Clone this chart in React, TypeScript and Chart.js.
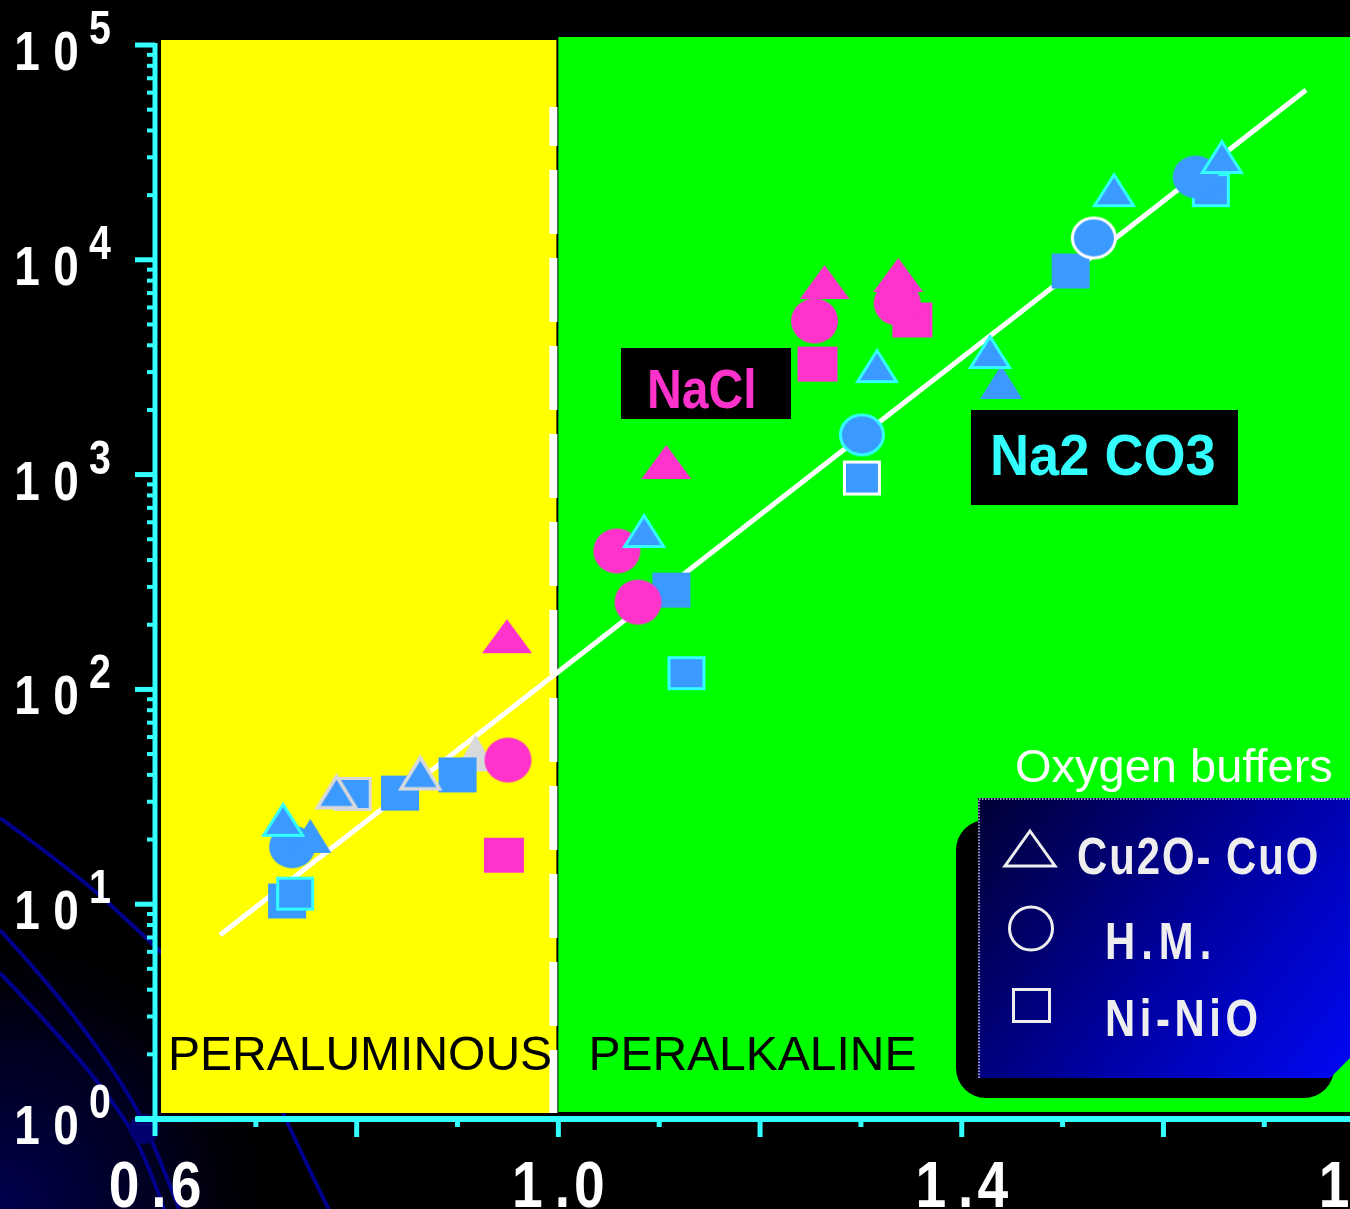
import { useEffect, useRef } from 'react';
import { Chart, registerables } from 'chart.js';

Chart.register(...registerables);

// ---------------- data ----------------
const X_MIN = 0.6;
const X_MAX = 1.785;
const Y_MIN = 1;
const Y_MAX = 100000;

const xMinorTicks = [0.7, 0.9, 1.1, 1.3, 1.5, 1.7];
const xMajorTicks = [0.8, 1.0, 1.2, 1.4, 1.6];
const xLabelValues = [0.6, 1.0, 1.4, 1.8];
const yDecades = [0, 1, 2, 3, 4, 5];
const yMinorMultipliers = [2, 3, 4, 5, 6, 7, 8, 9];
const boundaryValue = 1.0; // peraluminous / peralkaline limit

// NaCl experiments (magenta)
const naclCu2oCuo = [
  { x: 0.949, y: 177 },
  { x: 1.107, y: 1145 },
  { x: 1.264, y: 7880 },
  { x: 1.337, y: 8500 },
];
const naclHM = [
  { x: 0.95, y: 46.9 },
  { x: 1.058, y: 441 },
  { x: 1.079, y: 255 },
  { x: 1.254, y: 5190 },
  { x: 1.336, y: 6290 },
];
const naclNiNiO = [
  { x: 0.946, y: 16.9 },
  { x: 1.257, y: 3270 },
  { x: 1.351, y: 5245 },
];

// Na2CO3 experiments (blue)
const na2co3Cu2oCuoRunA = [
  { x: 0.727, y: 24.7 },
  { x: 1.085, y: 546 },
  { x: 1.316, y: 3200 },
  { x: 1.428, y: 3720 },
  { x: 1.551, y: 21100 },
  { x: 1.658, y: 30100 },
];
const na2co3Cu2oCuoRunB = [
  { x: 0.754, y: 20.8 },
  { x: 1.439, y: 2700 },
];
const na2co3Cu2oCuoRunC = [
  { x: 0.78, y: 33.3 },
  { x: 0.863, y: 40.8 },
];
const otherCu2oCuo = [{ x: 0.918, y: 50.6 }];
const na2co3HMRunA = [
  { x: 0.736, y: 18.5 },
  { x: 1.632, y: 24300 },
];
const na2co3HMRunB = [{ x: 1.301, y: 1530 }];
const na2co3HMRunC = [{ x: 1.531, y: 12640 }];
const na2co3NiNiORunA = [
  { x: 0.731, y: 10.35 },
  { x: 0.843, y: 32.9 },
  { x: 0.9, y: 40.0 },
  { x: 1.112, y: 290 },
  { x: 1.508, y: 8870 },
];
const na2co3NiNiORunB = [
  { x: 0.739, y: 11.2 },
  { x: 1.127, y: 119 },
  { x: 1.647, y: 21100 },
];
const na2co3NiNiORunC = [{ x: 0.796, y: 32.6 }];
const na2co3NiNiORunD = [{ x: 1.301, y: 964 }];

const fitLine = [
  { x: 0.6645, y: 7.19 },
  { x: 1.7414, y: 61700 },
];

// ---------------- styles ----------------
const MAGENTA = '#ff33cc';
const BLUE = '#3a9aff';
const CYAN = '#33ffff';
const GREY = '#d9d9d9';
const WHITE = '#ffffff';
const YELLOW = '#ffff00';
const GREEN = '#00ff00';
const FONT = '"Liberation Sans", Arial, Helvetica, sans-serif';

function makeMarker(kind: string, w: number, h: number, fill: string, stroke?: string, lw = 3) {
  const pad = 5;
  const c = document.createElement('canvas');
  c.width = w + 2 * pad;
  c.height = h + 2 * pad;
  const g = c.getContext('2d')!;
  g.translate(pad, pad);
  const i = stroke ? lw / 2 : 0;
  g.beginPath();
  if (kind === 'tri') {
    g.moveTo(w / 2, i);
    g.lineTo(w - i, h - i);
    g.lineTo(i, h - i);
    g.closePath();
  } else if (kind === 'rect') {
    g.rect(i, i, w - 2 * i, h - 2 * i);
  } else {
    g.ellipse(w / 2, h / 2, w / 2 - i, h / 2 - i, 0, 0, Math.PI * 2);
  }
  g.fillStyle = fill;
  g.fill();
  if (stroke) {
    g.strokeStyle = stroke;
    g.lineWidth = lw;
    g.lineJoin = 'miter';
    g.stroke();
  }
  return c;
}

function drawChars(
  ctx: CanvasRenderingContext2D,
  text: string,
  x: number,
  baseline: number,
  font: string,
  color: string,
  spacing: number,
  sx: number,
  align: 'left' | 'center' = 'left'
) {
  ctx.save();
  ctx.font = font;
  ctx.fillStyle = color;
  ctx.textAlign = 'left';
  ctx.textBaseline = 'alphabetic';
  const chars = [...text];
  const widths = chars.map((c) => ctx.measureText(c).width * sx);
  const total = widths.reduce((a, b) => a + b, 0) + spacing * (chars.length - 1);
  let cx = align === 'center' ? x - total / 2 : x;
  chars.forEach((c, i) => {
    ctx.save();
    ctx.translate(cx, baseline);
    ctx.scale(sx, 1);
    ctx.fillText(c, 0, 0);
    ctx.restore();
    cx += widths[i] + spacing;
  });
  ctx.restore();
}

function smoothPath(ctx: CanvasRenderingContext2D, pts: number[][]) {
  ctx.beginPath();
  ctx.moveTo(pts[0][0], pts[0][1]);
  for (let i = 1; i < pts.length - 1; i++) {
    const mx = (pts[i][0] + pts[i + 1][0]) / 2;
    const my = (pts[i][1] + pts[i + 1][1]) / 2;
    ctx.quadraticCurveTo(pts[i][0], pts[i][1], mx, my);
  }
  const l = pts[pts.length - 1];
  ctx.lineTo(l[0], l[1]);
  ctx.stroke();
}

const decorPlugin = {
  id: 'decor',
  beforeDraw(chart: any) {
    const ctx: CanvasRenderingContext2D = chart.ctx;
    const W = chart.width;
    const H = chart.height;
    ctx.save();
    ctx.fillStyle = '#000';
    ctx.fillRect(0, 0, W, H);
    const grad = ctx.createRadialGradient(0, H, 0, 0, H, 300);
    grad.addColorStop(0, 'rgba(0,0,80,1)');
    grad.addColorStop(0.55, 'rgba(0,0,45,0.7)');
    grad.addColorStop(1, 'rgba(0,0,0,0)');
    ctx.fillStyle = grad;
    ctx.fillRect(0, H - 320, 340, 320);
    ctx.strokeStyle = '#00008c';
    ctx.lineWidth = 4;
    smoothPath(ctx, [[0, 818], [72, 870], [147, 938], [220, 1010], [270, 1085], [300, 1150], [330, 1212]]);
    smoothPath(ctx, [[0, 930], [43, 977], [100, 1050], [140, 1113], [160, 1160], [180, 1212]]);
    smoothPath(ctx, [[0, 973], [67, 1043], [127, 1120], [150, 1170], [165, 1212]]);
    ctx.restore();
  },
  beforeDatasetsDraw(chart: any) {
    const ctx: CanvasRenderingContext2D = chart.ctx;
    const xs = chart.scales.x;
    const ys = chart.scales.y;
    const left = xs.getPixelForValue(X_MIN);
    const mid = xs.getPixelForValue(boundaryValue);
    const right = chart.chartArea.right;
    const top = ys.getPixelForValue(Y_MAX);
    const bottom = ys.getPixelForValue(Y_MIN);
    ctx.save();
    ctx.fillStyle = YELLOW;
    ctx.fillRect(left + 6, top - 5, mid - 2 - (left + 6), bottom - 6 - (top - 5));
    ctx.fillStyle = GREEN;
    ctx.fillRect(mid, top - 8, right - mid, bottom - 7 - (top - 8));
    // dashed boundary line
    ctx.strokeStyle = WHITE;
    ctx.lineWidth = 8;
    ctx.setLineDash([64, 24]);
    ctx.lineDashOffset = 25;
    ctx.beginPath();
    ctx.moveTo(mid - 5, 107);
    ctx.lineTo(mid - 5, bottom - 6);
    ctx.stroke();
    ctx.setLineDash([]);
    // region labels
    ctx.fillStyle = '#000';
    ctx.font = `48px ${FONT}`;
    ctx.textBaseline = 'alphabetic';
    ctx.fillText('PERALUMINOUS', left + 13, bottom - 49);
    ctx.fillText('PERALKALINE', mid + 30, bottom - 49);
    // series labels
    ctx.fillStyle = '#000';
    ctx.fillRect(621, 348, 170, 71);
    ctx.fillRect(971, 410, 267, 95);
    ctx.restore();
    drawChars(ctx, 'NaCl', 647, 408, `bold 56px ${FONT}`, MAGENTA, 0, 0.86);
    drawChars(ctx, 'Na2 CO3', 990, 475, `bold 57px ${FONT}`, CYAN, 0, 0.95);
  },
  afterDraw(chart: any) {
    const ctx: CanvasRenderingContext2D = chart.ctx;
    const xs = chart.scales.x;
    const ys = chart.scales.y;
    const ax = xs.getPixelForValue(X_MIN);
    const ay = ys.getPixelForValue(Y_MIN);
    const top = ys.getPixelForValue(Y_MAX);
    const right = chart.width;
    ctx.save();
    // navy blob at the origin
    ctx.fillStyle = '#000070';
    ctx.beginPath();
    ctx.arc(ax - 11, ay + 10, 15, 0, Math.PI * 2);
    ctx.fill();
    ctx.fillStyle = CYAN;
    // y axis
    ctx.fillRect(ax - 2.5, top - 2, 5, ay + 17 - (top - 2));
    yDecades.forEach((e) => {
      const py = ys.getPixelForValue(Math.pow(10, e));
      ctx.fillRect(ax - 20, py - 2.5, 20, 5);
      if (e < 5) {
        yMinorMultipliers.forEach((m) => {
          const pm = ys.getPixelForValue(m * Math.pow(10, e));
          ctx.fillRect(ax - 8, pm - 2, 8, 4);
        });
      }
    });
    // x axis
    ctx.fillRect(ax - 19, ay - 3, right - (ax - 19), 6);
    xMajorTicks.forEach((v) => {
      const px = xs.getPixelForValue(v);
      ctx.fillRect(px - 2.5, ay + 3, 5, 15);
    });
    xMinorTicks.forEach((v) => {
      const px = xs.getPixelForValue(v);
      ctx.fillRect(px - 2.5, ay + 3, 5, 5);
    });
    ctx.restore();

    // y tick labels 10^n
    yDecades.forEach((e) => {
      const py = ys.getPixelForValue(Math.pow(10, e));
      drawChars(ctx, '1', 27, py + 25, `bold 56px ${FONT}`, WHITE, 0, 0.82, 'center');
      drawChars(ctx, '0', 66, py + 25, `bold 56px ${FONT}`, WHITE, 0, 0.82, 'center');
      drawChars(ctx, String(e), 100, py - 1, `bold 48px ${FONT}`, WHITE, 0, 0.82, 'center');
    });
    // x tick labels
    xLabelValues.forEach((v) => {
      const px = xs.getPixelForValue(v);
      const t = v.toFixed(1);
      drawChars(ctx, t[0], px - 31, ay + 88, `bold 65px ${FONT}`, WHITE, 0, 0.85, 'center');
      drawChars(ctx, '.', px + 4, ay + 88, `bold 65px ${FONT}`, WHITE, 0, 0.85, 'center');
      drawChars(ctx, t[2], px + 31, ay + 88, `bold 65px ${FONT}`, WHITE, 0, 0.85, 'center');
    });

    // legend
    ctx.save();
    ctx.fillStyle = WHITE;
    ctx.font = `47px ${FONT}`;
    ctx.textBaseline = 'alphabetic';
    ctx.fillText('Oxygen buffers', 1015, 782);
    ctx.fillStyle = '#000';
    ctx.beginPath();
    ctx.roundRect(956, 820, 378, 278, 30);
    ctx.fill();
    const lg = ctx.createLinearGradient(980, 800, 1350, 1078);
    lg.addColorStop(0, '#000036');
    lg.addColorStop(0.5, '#00009a');
    lg.addColorStop(1, '#0008f4');
    ctx.fillStyle = lg;
    ctx.beginPath();
    ctx.moveTo(978, 798);
    ctx.lineTo(1350, 798);
    ctx.lineTo(1350, 1058);
    ctx.lineTo(1330, 1078);
    ctx.lineTo(978, 1078);
    ctx.closePath();
    ctx.fill();
    ctx.strokeStyle = 'rgba(255,255,255,0.8)';
    ctx.lineWidth = 1.5;
    ctx.setLineDash([1.5, 1.5]);
    ctx.beginPath();
    ctx.moveTo(979, 1078);
    ctx.lineTo(979, 799);
    ctx.lineTo(1350, 799);
    ctx.stroke();
    ctx.setLineDash([]);
    ctx.strokeStyle = '#eeeeee';
    ctx.lineWidth = 3;
    ctx.lineJoin = 'miter';
    ctx.beginPath();
    ctx.moveTo(1030, 831);
    ctx.lineTo(1055, 866);
    ctx.lineTo(1005, 866);
    ctx.closePath();
    ctx.stroke();
    ctx.beginPath();
    ctx.arc(1031, 928.5, 21.5, 0, Math.PI * 2);
    ctx.stroke();
    ctx.strokeRect(1013.5, 989.5, 36, 32);
    ctx.restore();
    drawChars(ctx, 'Cu2O- CuO', 1077, 874, `bold 51px ${FONT}`, '#eeeeee', 2, 0.82);
    drawChars(ctx, 'H.M.', 1105, 959, `bold 51px ${FONT}`, '#eeeeee', 6, 0.82);
    drawChars(ctx, 'Ni-NiO', 1105, 1036, `bold 51px ${FONT}`, '#eeeeee', 4.6, 0.82);
  },
};

export default function App() {
  const ref = useRef<HTMLCanvasElement>(null);
  useEffect(() => {
    document.body.style.margin = '0';
    document.body.style.background = '#000';
    document.body.style.overflow = 'hidden';
    const canvas = ref.current!;

    const triMag = makeMarker('tri', 50, 34, MAGENTA);
    const cirMag = makeMarker('ell', 47, 45, MAGENTA);
    const sqMag = makeMarker('rect', 40, 35, MAGENTA);
    const triBlueCyan = makeMarker('tri', 42, 34, BLUE, CYAN, 3);
    const triBlue = makeMarker('tri', 42, 34, BLUE);
    const triBlueGrey = makeMarker('tri', 42, 35, BLUE, GREY, 3.5);
    const triGrey = makeMarker('tri', 42, 37, GREY);
    const cirBlue = makeMarker('ell', 46, 43, BLUE);
    const cirBlueCyan = makeMarker('ell', 46, 43, BLUE, CYAN, 3);
    const cirBlueWhite = makeMarker('ell', 46, 43, BLUE, WHITE, 3);
    const sqBlue = makeMarker('rect', 38, 35, BLUE);
    const sqBlueCyan = makeMarker('rect', 38, 34, BLUE, CYAN, 3);
    const sqBlueGrey = makeMarker('rect', 38, 34, BLUE, GREY, 3);
    const sqBlueWhite = makeMarker('rect', 38, 35, BLUE, WHITE, 3);

    const pts = (label: string, data: any[], style: any) => ({
      label,
      data,
      pointStyle: style,
      pointRadius: 10,
      pointHoverRadius: 10,
      backgroundColor: BLUE,
      borderColor: BLUE,
      showLine: false,
      clip: false,
    });

    // bottom -> top
    const layers: any[] = [
      {
        label: 'fit',
        data: fitLine,
        showLine: true,
        borderColor: WHITE,
        borderWidth: 5,
        borderCapStyle: 'butt',
        pointRadius: 0,
        pointHoverRadius: 0,
        fill: false,
      },
      pts('other Cu2O-CuO', otherCu2oCuo, triGrey),
      pts('Na2CO3 Ni-NiO A', na2co3NiNiORunA, sqBlue),
      pts('Na2CO3 Ni-NiO C', na2co3NiNiORunC, sqBlueGrey),
      pts('Na2CO3 Ni-NiO D', na2co3NiNiORunD, sqBlueWhite),
      pts('Na2CO3 Ni-NiO B', na2co3NiNiORunB, sqBlueCyan),
      pts('Na2CO3 H.M. A', na2co3HMRunA, cirBlue),
      pts('Na2CO3 H.M. B', na2co3HMRunB, cirBlueCyan),
      pts('Na2CO3 H.M. C', na2co3HMRunC, cirBlueWhite),
      pts('NaCl Ni-NiO', naclNiNiO, sqMag),
      pts('NaCl H.M.', naclHM, cirMag),
      pts('Na2CO3 Cu2O-CuO B', na2co3Cu2oCuoRunB, triBlue),
      pts('Na2CO3 Cu2O-CuO C', na2co3Cu2oCuoRunC, triBlueGrey),
      pts('Na2CO3 Cu2O-CuO A', na2co3Cu2oCuoRunA, triBlueCyan),
      pts('NaCl Cu2O-CuO', naclCu2oCuo, triMag),
    ];
    const n = layers.length;
    layers.forEach((d, i) => (d.order = n - i));

    const chart = new Chart(canvas, {
      type: 'scatter',
      data: { datasets: layers },
      options: {
        responsive: false,
        animation: false,
        devicePixelRatio: 1,
        events: [],
        layout: { autoPadding: false, padding: { left: 155, right: 0, top: 45, bottom: 90 } },
        plugins: { legend: { display: false }, tooltip: { enabled: false } },
        scales: {
          x: { type: 'linear', min: X_MIN, max: X_MAX, display: false },
          y: { type: 'logarithmic', min: Y_MIN, max: Y_MAX, display: false },
        },
      },
      plugins: [decorPlugin],
    } as any);
    return () => chart.destroy();
  }, []);

  return (
    <div style={{ width: 1350, height: 1209, overflow: 'hidden', background: '#000', position: 'relative' }}>
      <canvas ref={ref} width={1350} height={1209} style={{ display: 'block', width: 1350, height: 1209 }} />
    </div>
  );
}
